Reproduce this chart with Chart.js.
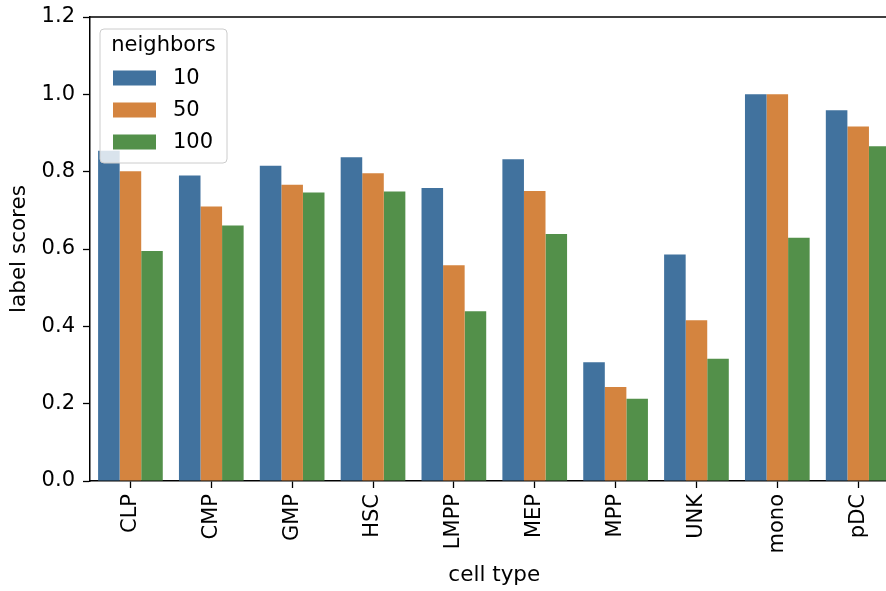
<!DOCTYPE html>
<html>
<head>
<meta charset="utf-8">
<script src="https://cdn.jsdelivr.net/npm/chart.js@4.4.1/dist/chart.umd.min.js"></script>
<style>
  html, body { margin: 0; padding: 0; background: #fff; overflow: hidden; }
  #wrap { position: relative; width: 910px; height: 591px; }
</style>
</head>
<body>
<div id="wrap"><canvas id="c"></canvas></div>
<script>
const categories = ["CLP", "CMP", "GMP", "HSC", "LMPP", "MEP", "MPP", "UNK", "mono", "pDC"];
const seriesNames = ["10", "50", "100"];
const n10  = [0.854, 0.790, 0.815, 0.837, 0.758, 0.832, 0.307, 0.586, 1.000, 0.959];
const n50  = [0.801, 0.710, 0.766, 0.796, 0.558, 0.750, 0.243, 0.416, 1.000, 0.917];
const n100 = [0.595, 0.661, 0.746, 0.749, 0.439, 0.639, 0.213, 0.316, 0.629, 0.866];
const yTicks = [0.0, 0.2, 0.4, 0.6, 0.8, 1.0, 1.2];
const colors = ["#41729e", "#d4843f", "#53904a"];
const legendTitle = "neighbors";
const xTitle = "cell type";
const yTitle = "label scores";

const FONT = "'DejaVu Sans', sans-serif";

const spinePlugin = {
  id: 'spines',
  afterDraw(chart) {
    const ctx = chart.ctx, a = chart.chartArea;
    ctx.save();
    ctx.strokeStyle = '#000';
    ctx.lineWidth = 1.5;
    ctx.beginPath();
    ctx.moveTo(a.left, a.top);
    ctx.lineTo(a.right, a.top);
    ctx.lineTo(a.right, a.bottom);
    ctx.stroke();
    ctx.restore();
  }
};

const legendPlugin = {
  id: 'innerLegend',
  afterDraw(chart) {
    const ctx = chart.ctx, a = chart.chartArea;
    const x = a.left + 10, y = a.top + 12, w = 127, h = 134;
    ctx.save();
    ctx.beginPath();
    const r = 4;
    ctx.moveTo(x + r, y);
    ctx.arcTo(x + w, y, x + w, y + h, r);
    ctx.arcTo(x + w, y + h, x, y + h, r);
    ctx.arcTo(x, y + h, x, y, r);
    ctx.arcTo(x, y, x + w, y, r);
    ctx.closePath();
    ctx.fillStyle = 'rgba(255,255,255,0.8)';
    ctx.fill();
    ctx.strokeStyle = '#cccccc';
    ctx.lineWidth = 1;
    ctx.stroke();
    ctx.fillStyle = '#000';
    ctx.font = '21px ' + FONT;
    ctx.textBaseline = 'middle';
    ctx.textAlign = 'center';
    ctx.fillText(legendTitle, x + w / 2, y + 17);
    ctx.textAlign = 'left';
    const rows = [y + 49, y + 81, y + 113];
    seriesNames.forEach((s, i) => {
      ctx.fillStyle = colors[i];
      ctx.fillRect(x + 13, rows[i] - 7.5, 43, 15);
      ctx.fillStyle = '#000';
      ctx.fillText(s, x + 73, rows[i] + 1);
    });
    ctx.restore();
  }
};

const datasets = [n10, n50, n100].map((d, i) => ({
  label: seriesNames[i],
  data: d,
  backgroundColor: colors[i],
  borderWidth: 0,
  categoryPercentage: 0.8,
  barPercentage: 1.0
}));

new Chart(document.getElementById('c'), {
  type: 'bar',
  data: { labels: categories, datasets },
  options: {
    responsive: true,
    maintainAspectRatio: false,
    animation: false,
    layout: { padding: { top: 17, right: 11.4, bottom: 0, left: 0 } },
    plugins: { legend: { display: false }, tooltip: { enabled: false } },
    scales: {
      x: {
        offset: true,
        grid: { display: true, offset: false, drawOnChartArea: false, drawTicks: true, tickLength: 7, tickColor: '#000', tickWidth: 1.3 },
        border: { display: true, color: '#000', width: 1.5 },
        ticks: { color: '#000', font: { family: FONT, size: 21 }, maxRotation: 90, minRotation: 90, padding: 6 },
        title: { display: true, text: xTitle, color: '#000', font: { family: FONT, size: 21.5 }, padding: { top: 0, bottom: 3 } },
        afterFit(scale) { scale.height = 110; scale.paddingLeft = 0; scale.paddingRight = 0; }
      },
      y: {
        min: 0, max: 1.2,
        afterBuildTicks(scale) { scale.ticks = yTicks.map(v => ({ value: v })); },
        grid: { display: true, drawOnChartArea: false, drawTicks: true, tickLength: 7, tickColor: '#000', tickWidth: 1.3 },
        border: { display: true, color: '#000', width: 1.5 },
        ticks: { color: '#000', font: { family: FONT, size: 21 }, padding: 8, callback: v => Number(v).toFixed(1) },
        title: { display: true, text: yTitle, color: '#000', font: { family: FONT, size: 21.5 }, padding: { top: 7, bottom: 0 } },
        afterFit(scale) { scale.width = 90; scale.paddingTop = 0; scale.paddingBottom = 0; }
      }
    }
  },
  plugins: [spinePlugin, legendPlugin]
});
</script>
</body>
</html>
